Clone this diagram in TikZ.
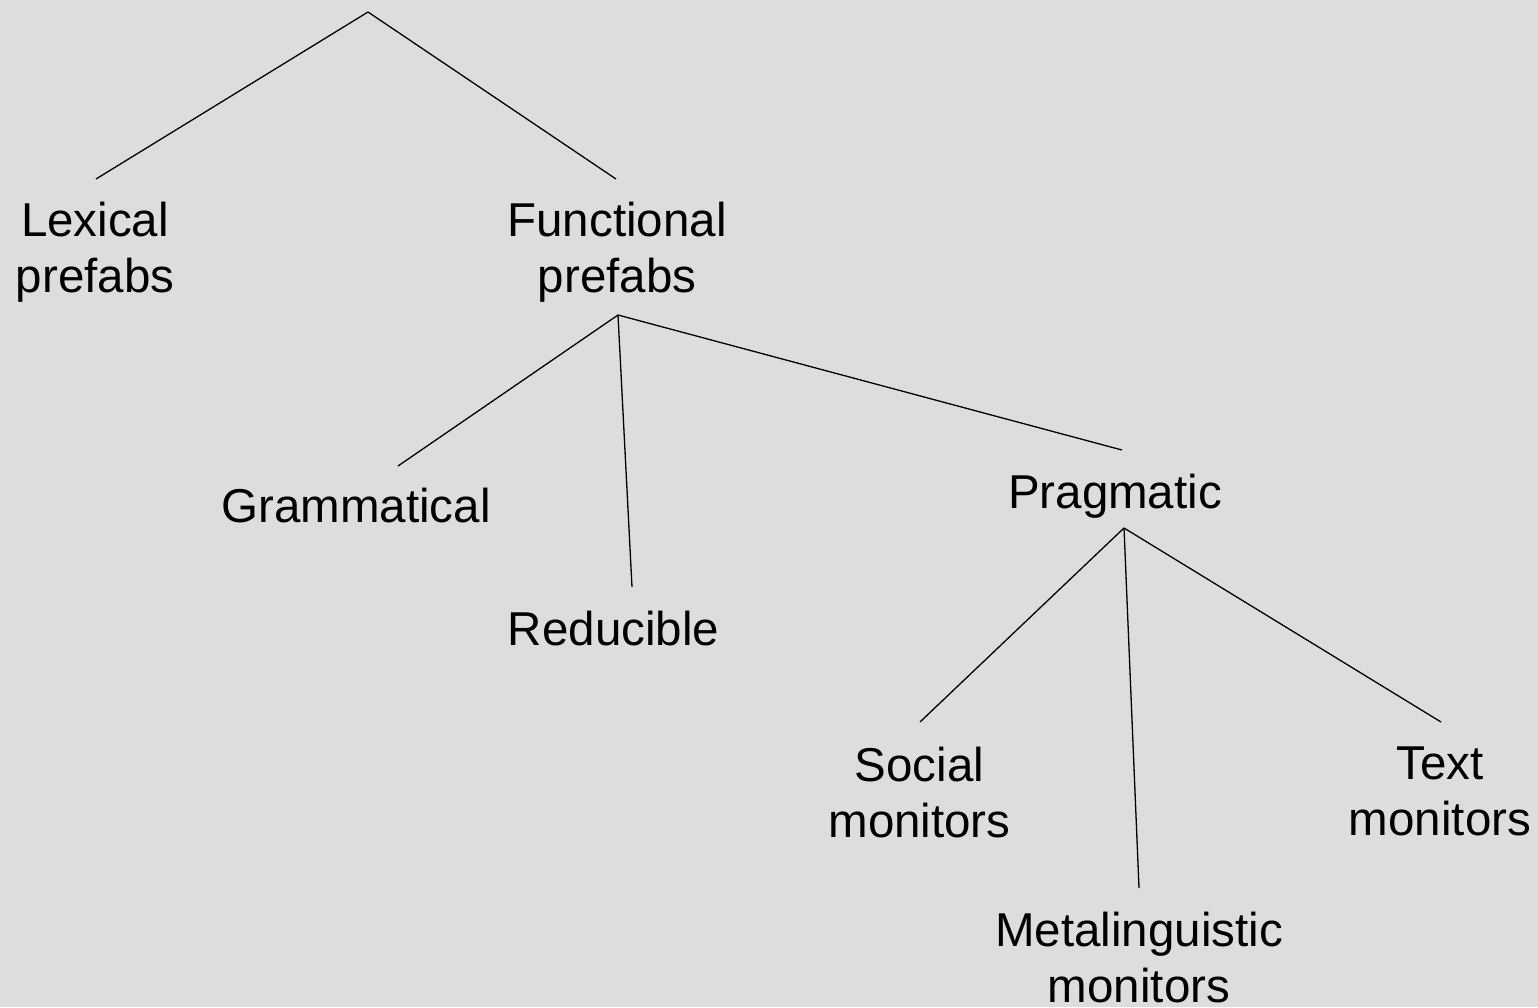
\documentclass[tikz,border=0pt]{standalone}
\usepackage{fontspec}
\setmainfont{Liberation Sans}
\definecolor{bg}{HTML}{DDDDDD}
\begin{document}
\begin{tikzpicture}[x=1pt,y=-1pt,
  lbl/.style={anchor=north,inner sep=0pt,align=center,font=\fontsize{47.5}{56}\selectfont},
  edge/.style={draw=black,line width=1.3pt}]
\fill[bg] (0,0) rectangle (1538,1007);
\useasboundingbox (0,0) rectangle (1538,1007);
% labels
\node[lbl] (lex) at (95,202) {Lexical\\prefabs};
\node[lbl] (fun) at (617,202) {Functional\\prefabs};
\node[lbl] (gram) at (356,488) {Grammatical};
\node[lbl] (red) at (613.5,611) {Reducible};
\node[lbl] (prag) at (1115,474) {Pragmatic};
\node[lbl] (soc) at (919.5,747) {Social\\monitors};
\node[lbl] (meta) at (1139,912) {Metalinguistic\\monitors};
\node[lbl] (txt) at (1440,747) {Text\\monitors};
% connection points
\coordinate (root) at (368,12);
\coordinate (lexT) at (96,179);
\coordinate (funT) at (616,179);
\coordinate (funB) at (618,315);
\coordinate (gramT) at (398,466);
\coordinate (redT) at (632,587);
\coordinate (pragT) at (1122,450);
\coordinate (pragB) at (1124,528);
\coordinate (socT) at (920,722);
\coordinate (metaT) at (1139,888);
\coordinate (txtT) at (1441,722);
% connectors
\draw[edge] (root) -- (lexT);
\draw[edge] (root) -- (funT);
\draw[edge] (funB) -- (gramT);
\draw[edge] (funB) -- (redT);
\draw[edge] (funB) -- (pragT);
\draw[edge] (pragB) -- (socT);
\draw[edge] (pragB) -- (metaT);
\draw[edge] (pragB) -- (txtT);
\end{tikzpicture}
\end{document}
